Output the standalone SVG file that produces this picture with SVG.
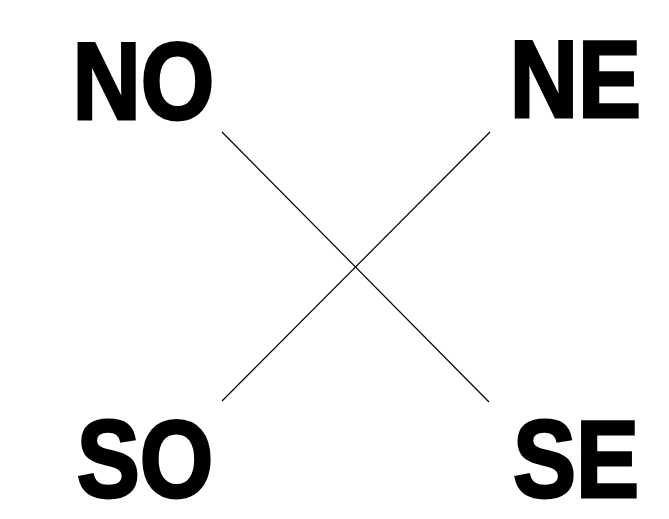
<svg xmlns="http://www.w3.org/2000/svg" width="669" height="519" viewBox="0 0 669 519">
<style>
.lbl{font-family:"Liberation Sans",Arial,sans-serif;font-weight:bold;font-size:110px;fill:#000;stroke:#000;stroke-width:3;stroke-linejoin:miter;text-anchor:middle}
.edge{stroke:#000;stroke-width:1.2;fill:none}
</style>
<rect width="669" height="519" fill="#fff"/>
<g id="connectors">
<line class="edge" x1="222" y1="132" x2="489" y2="402"/>
<line class="edge" x1="490" y1="132" x2="222" y2="401"/>
</g>
<g id="NO"><text class="lbl" transform="translate(143.5,119) scale(0.86,1)">NO</text></g>
<g id="NE"><text class="lbl" transform="translate(575.5,117) scale(0.86,1)">NE</text></g>
<g id="SO"><text class="lbl" transform="translate(145,497) scale(0.86,1)">SO</text></g>
<g id="SE"><text class="lbl" transform="translate(576,497) scale(0.86,1)">SE</text></g>
</svg>
